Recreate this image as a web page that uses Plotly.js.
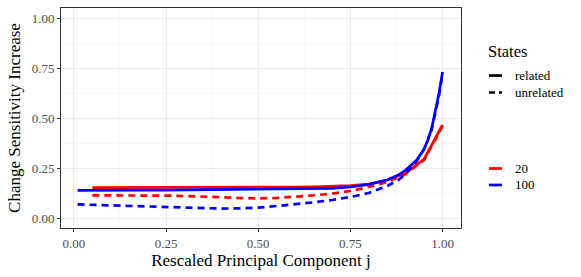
<!DOCTYPE html>
<html><head><meta charset="utf-8">
<script src="https://cdn.plot.ly/plotly-3.0.1.min.js"></script>
<style>body{margin:0;padding:0;background:#fff}#chart{width:581px;height:277px}</style>
</head><body><div id="chart"></div>
<script>
// Red: 20 states, x = j/20
const x20 = [0.05,0.10,0.15,0.20,0.25,0.30,0.35,0.40,0.45,0.50,0.55,0.60,0.65,0.70,0.75,0.80,0.85,0.90,0.95,1.00];
const related20 = [0.152,0.152,0.152,0.153,0.153,0.153,0.153,0.153,0.154,0.154,0.155,0.155,0.156,0.158,0.162,0.170,0.190,0.225,0.295,0.465];
const unrelated20 = [0.113,0.113,0.114,0.113,0.112,0.110,0.108,0.104,0.100,0.098,0.100,0.105,0.113,0.122,0.135,0.155,0.180,0.220,0.290,0.460];
// Blue: 100 states
const x100 = [0.01,0.05,0.10,0.15,0.20,0.25,0.30,0.35,0.40,0.45,0.50,0.55,0.60,0.65,0.70,0.75,0.80,0.85,0.88,0.90,0.93,0.95,0.96,0.97,0.98,0.99,1.00];
const related100 = [0.138,0.139,0.139,0.139,0.139,0.139,0.140,0.140,0.140,0.141,0.141,0.142,0.143,0.145,0.148,0.155,0.168,0.190,0.215,0.240,0.290,0.345,0.390,0.445,0.530,0.620,0.730];
const unrelated100 = [0.068,0.066,0.063,0.060,0.057,0.055,0.052,0.049,0.047,0.048,0.052,0.060,0.068,0.078,0.090,0.105,0.125,0.160,0.190,0.220,0.285,0.345,0.390,0.440,0.520,0.610,0.720];

const legendTitle = "States";
const legendTypes = ["related","unrelated"];
const legendStates = ["20","100"];

const RED = "#ff0000", BLUE = "#0000ff";
const LW = 2.7, DASH = "7px,5px";

const traces = [
  {x:x20, y:related20, mode:"lines", line:{color:RED,width:LW}},
  {x:x20, y:unrelated20, mode:"lines", line:{color:RED,width:LW,dash:DASH}},
  {x:x100, y:related100, mode:"lines", line:{color:BLUE,width:LW}},
  {x:x100, y:unrelated100, mode:"lines", line:{color:BLUE,width:LW,dash:DASH}}
];

const FONT = "Liberation Serif";
const axisCommon = {
  showline:true, mirror:true, linecolor:"#333333", linewidth:1,
  ticks:"outside", ticklen:3, tickcolor:"#333333", tickwidth:1,
  gridcolor:"#ebebeb", gridwidth:1, zeroline:false,
  tickfont:{family:FONT,size:13,color:"#4d4d4d"}
};
const minorGrid = {showgrid:true, gridcolor:"#f3f3f3", gridwidth:0.6, ticks:"", tickvals:[0.125,0.375,0.625,0.875]};

// legend built in paper coordinates
const lx0 = 1.07, lx1 = 1.1025, ltx = 1.13;
const legendYs = [0.693, 0.616, 0.2705, 0.1955];
const legendLabels = legendTypes.concat(legendStates);
const legendColors = ["#000","#000",RED,BLUE];
const legendDash = ["solid","6px,4px","solid","solid"];

const annotations = [{
  xref:"paper", yref:"paper", x:1.063, y:0.8045, xanchor:"left", yanchor:"middle",
  text:legendTitle, showarrow:false, font:{family:FONT,size:16.5,color:"#000"}
}];
const shapes = [];
legendLabels.forEach((t,i)=>{
  annotations.push({xref:"paper", yref:"paper", x:ltx, y:legendYs[i], xanchor:"left", yanchor:"middle",
    text:t, showarrow:false, font:{family:FONT,size:13,color:"#000"}});
  shapes.push({type:"line", xref:"paper", yref:"paper", x0:lx0, x1:lx1, y0:legendYs[i], y1:legendYs[i],
    line:{color:legendColors[i], width:LW, dash:legendDash[i]}});
});

const layout = {
  width:581, height:277,
  margin:{l:61,r:120,t:8,b:49},
  paper_bgcolor:"#fff", plot_bgcolor:"#fff",
  font:{family:FONT,color:"#000"},
  showlegend:false,
  xaxis:Object.assign({}, axisCommon, {
    range:[-0.035,1.05], tickvals:[0,0.25,0.5,0.75,1], ticktext:["0.00","0.25","0.50","0.75","1.00"],
    minor:minorGrid,
    title:{text:"Rescaled Principal Component j", font:{family:FONT,size:17,color:"#000"}, standoff:1}
  }),
  yaxis:Object.assign({}, axisCommon, {
    range:[-0.05,1.05], tickvals:[0,0.25,0.5,0.75,1], ticktext:["0.00","0.25","0.50","0.75","1.00"],
    minor:minorGrid,
    title:{text:"Change Sensitivity Increase", font:{family:FONT,size:17,color:"#000"}, standoff:6}
  }),
  annotations:annotations,
  shapes:shapes
};

Plotly.newPlot("chart", traces, layout, {staticPlot:true, displayModeBar:false});
</script></body></html>
